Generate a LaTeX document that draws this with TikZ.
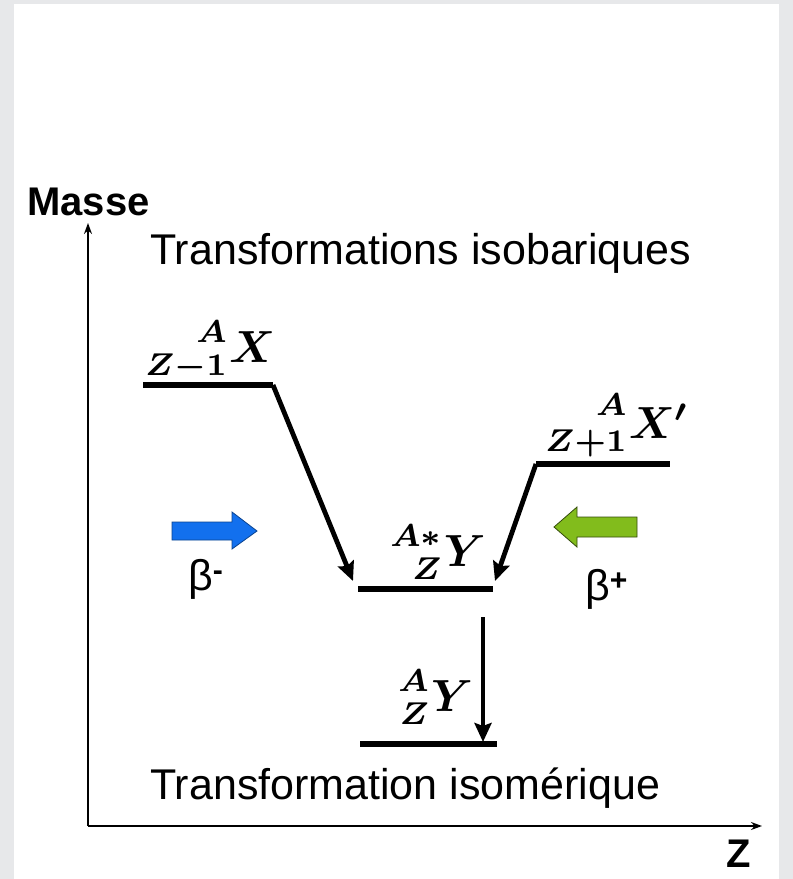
\documentclass[tikz,border=0pt]{standalone}
\usepackage{mathtools,graphicx}
\usepackage[no-math]{fontspec}
\setmainfont{Liberation Sans}
\usetikzlibrary{arrows.meta}
\definecolor{frame}{HTML}{E7E8EA}
\definecolor{bminus}{HTML}{1270EE}
\definecolor{bplus}{HTML}{82BC1C}
\newcommand{\nucl}[3]{\scalebox{4.5}{$\prescript{#1}{#2}{#3}$}}
\tikzset{
  level/.style={line width=6pt},
  decay/.style={line width=4.8pt,-{Stealth[length=19pt,width=17pt,inset=3pt]}},
  axisline/.style={line width=1.6pt,-{Stealth[length=11pt,width=8pt]}},
  nuc/.style={inner sep=0pt,font=\boldmath},
  txt/.style={inner sep=0pt,font=\fontsize{43}{48}\selectfont},
}

\begin{document}
\begin{tikzpicture}[x=1pt,y=-1pt]
  % slide frame
  \fill[frame] (0,0) rectangle (793,879);
  \fill[white] (14,4) rectangle (779,879);
  \useasboundingbox (0,0) rectangle (793,879);

  % axes
  \coordinate (O) at (88,826);
  \coordinate (Mtop) at (88,223);
  \coordinate (Zend) at (762,826);
  \draw[axisline] (O) -- (Mtop);
  \draw[axisline] (O) -- (Zend);
  \node[txt,font=\fontsize{40}{46}\selectfont\bfseries,anchor=base west] (masse) at (27,215) {Masse};
  \node[txt,font=\fontsize{40}{46}\selectfont\bfseries,anchor=base] (zlab) at (739,867) {Z};
  \node[txt,anchor=base west] (isobar) at (150,264) {Transformations isobariques};
  \node[txt,anchor=base west] (isomer) at (150,799) {Transformation isomérique};

  % levels
  \coordinate (Xl) at (143,385);  \coordinate (Xr) at (273,385);
  \coordinate (Ysl) at (358,589); \coordinate (Ysr) at (493,589);
  \coordinate (Xpl) at (536,464); \coordinate (Xpr) at (670,464);
  \coordinate (Yl) at (360,744);  \coordinate (Yr) at (497,744);
  \draw[level] (Xl) -- (Xr);
  \draw[level] (Ysl) -- (Ysr);
  \draw[level] (Xpl) -- (Xpr);
  \draw[level] (Yl) -- (Yr);
  \node[nuc,anchor=base west] (nX) at (145,362) {\nucl{A}{Z-1}{X}};
  \node[nuc,anchor=base west] (nXp) at (545,438) {\nucl{A}{Z+1}{X'}};
  \node[nuc,anchor=base west] (nYs) at (390,566) {\nucl{A*}{Z}{Y}};
  \node[nuc,anchor=base west] (nY) at (398,711) {\nucl{A}{Z}{Y}};

  % decays
  \coordinate (tipm) at (353,581);
  \coordinate (tipp) at (495,581);
  \coordinate (g0) at (483,617);
  \coordinate (g1) at (483,742);
  \draw[decay] (Xr) -- (tipm);
  \draw[decay] (Xpl) -- (tipp);
  \draw[decay] (g0) -- (g1);

  % beta arrows
  \draw[bminus!60!black,fill=bminus,line width=0.8pt] (172,522) -- (232,522) -- (232,512)
    -- (257,531) -- (232,549) -- (232,540) -- (172,540) -- cycle;
  \draw[bplus!40!black,fill=bplus,line width=0.8pt] (637,517) -- (577,517) -- (577,507)
    -- (554,527) -- (577,547) -- (577,537) -- (637,537) -- cycle;
  \node[txt,anchor=base west] (bm) at (188,590) {β\textsuperscript{\textbf{-}}};
  \node[txt,anchor=base west] (bp) at (585,600) {β\textsuperscript{\textbf{+}}};
\end{tikzpicture}
\end{document}
